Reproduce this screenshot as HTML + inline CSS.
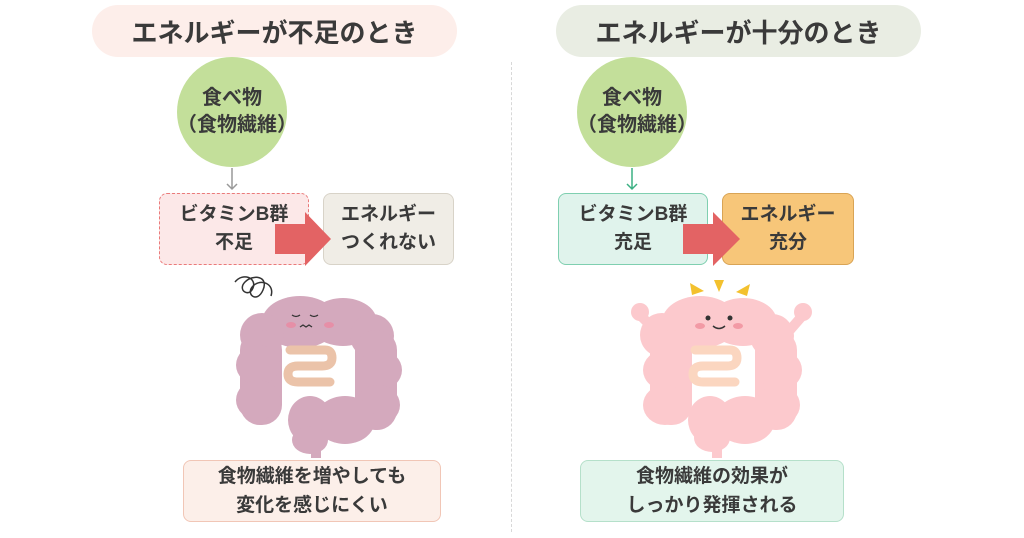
<!DOCTYPE html>
<html><head><meta charset="utf-8"><style>
body{margin:0;width:1024px;height:538px;background:#fff;position:relative;overflow:hidden;font-family:"Liberation Sans","Noto Sans CJK JP",sans-serif;font-weight:bold;color:#3a3a3a}
.a{position:absolute;box-sizing:border-box;display:flex;align-items:center;justify-content:center;text-align:center}
.pill{border-radius:26px;font-size:26px;height:52px;top:5px}
.circ{border-radius:50%;background:#c3df9a;width:110px;height:110px;font-size:20px;line-height:27px;top:57px}
.box{border-radius:8px;font-size:19px;line-height:28px;height:72px;top:193px}
.bot{border-radius:8px;font-size:19px;line-height:29px;height:62px;top:460px}
</style></head><body>
<div class="a pill" style="left:92px;width:365px;background:#fdeeea">エネルギーが不足のとき</div>
<div class="a pill" style="left:556px;width:365px;background:#e9ede3">エネルギーが十分のとき</div>
<div style="position:absolute;left:511px;top:62px;height:470px;border-left:1.5px dashed #d8d8d8"></div>
<div class="a circ" style="left:177px">食べ物<br>（食物繊維）</div>
<div class="a circ" style="left:577px">食べ物<br>（食物繊維）</div>
<svg width="1024" height="538" style="position:absolute;left:0;top:0">
<g stroke="#999" stroke-width="1.5" fill="none"><path d="M232 168V189M227 184l5 5 5-5"/></g>
<g stroke="#3bb083" stroke-width="1.5" fill="none"><path d="M632 168V189M627 184l5 5 5-5"/></g>
</svg>
<div class="a box" style="left:159px;width:150px;background:#fce8e8;border:1.5px dashed #ea7a7a">ビタミンB群<br>不足</div>
<div class="a box" style="left:323px;width:131px;background:#f0ede6;border:1.5px solid #d8d3c8">エネルギー<br>つくれない</div>
<div class="a box" style="left:558px;width:150px;background:#e0f3ec;border:1.5px solid #7fcfb0">ビタミンB群<br>充足</div>
<div class="a box" style="left:722px;width:132px;background:#f7c679;border:1.5px solid #d9a455">エネルギー<br>充分</div>
<svg width="1024" height="538" style="position:absolute;left:0;top:0">
<path d="M275 224H305V212L331 239 305 266V254H275Z" fill="#e36364"/>
<path d="M683 224H713V212L740 239 713 266V254H683Z" fill="#e36364"/>
<path d="M235 282c8-10 22-4 18 6s-16 2-8-6 24-6 18 8-18 4-10-4 22-2 18 10" stroke="#333" stroke-width="1.5" fill="none"/>
<g fill="#d4a9bd">
<ellipse cx="300" cy="322" rx="38" ry="26"/><ellipse cx="343" cy="322" rx="34" ry="24"/>
<ellipse cx="262" cy="335" rx="22" ry="22"/><ellipse cx="372" cy="336" rx="22" ry="22"/>
<rect x="240" y="330" width="42" height="95" rx="20"/><rect x="355" y="330" width="42" height="100" rx="20"/>
<ellipse cx="258" cy="365" rx="22" ry="20"/><ellipse cx="258" cy="400" rx="22" ry="20"/>
<ellipse cx="380" cy="370" rx="22" ry="20"/><ellipse cx="378" cy="405" rx="22" ry="20"/>
<ellipse cx="345" cy="420" rx="30" ry="24"/><ellipse cx="310" cy="420" rx="22" ry="24"/>
<ellipse cx="310" cy="440" rx="18" ry="14"/><rect x="311" y="440" width="10" height="18"/>
</g>
<g fill="none" stroke="#ebc3a9" stroke-width="9" stroke-linecap="round">
<path d="M290 350H325Q332 350 332 358Q332 366 322 366H298Q288 366 288 374Q288 382 298 382H330"/>
</g>
<g stroke="#333" stroke-width="1.3" fill="none"><path d="M292 315q4 3 8 0M310 315q4 3 8 0M300 327l3-2 3 2 3-2 3 2"/></g>
<ellipse cx="291" cy="325" rx="5" ry="3" fill="#e68fa7"/><ellipse cx="329" cy="325" rx="5" ry="3" fill="#e68fa7"/>
<g fill="#fcc9cd">
<ellipse cx="700" cy="322" rx="38" ry="26"/><ellipse cx="743" cy="322" rx="34" ry="24"/>
<ellipse cx="662" cy="335" rx="22" ry="22"/><ellipse cx="772" cy="336" rx="22" ry="22"/>
<rect x="650" y="330" width="42" height="95" rx="20"/><rect x="755" y="330" width="42" height="100" rx="20"/>
<ellipse cx="665" cy="370" rx="22" ry="20"/><ellipse cx="665" cy="405" rx="22" ry="20"/>
<ellipse cx="780" cy="370" rx="22" ry="20"/><ellipse cx="778" cy="405" rx="22" ry="20"/>
<ellipse cx="745" cy="420" rx="30" ry="24"/><ellipse cx="710" cy="420" rx="22" ry="24"/>
<ellipse cx="712" cy="438" rx="18" ry="14"/><rect x="712" y="440" width="10" height="18"/>
<path d="M655 330L640 315" stroke="#fcc9cd" stroke-width="10"/><circle cx="640" cy="312" r="9"/>
<path d="M790 330L803 315" stroke="#fcc9cd" stroke-width="10"/><circle cx="803" cy="312" r="9"/>
</g>
<g fill="none" stroke="#fbd6c0" stroke-width="9" stroke-linecap="round">
<path d="M695 350H730Q737 350 737 358Q737 366 727 366H703Q693 366 693 374Q693 382 703 382H735"/>
</g>
<circle cx="708" cy="318" r="2.5" fill="#333"/><circle cx="730" cy="318" r="2.5" fill="#333"/>
<path d="M713 326q6 5 12 0" stroke="#333" stroke-width="1.5" fill="none"/>
<ellipse cx="700" cy="326" rx="5" ry="3" fill="#f29aa5"/><ellipse cx="738" cy="326" rx="5" ry="3" fill="#f29aa5"/>
<g fill="#f3c12e"><path d="M690 283l14 8-12 4z"/><path d="M714 280l10 0-5 12z"/><path d="M736 292l14-8-3 12z"/></g>
</svg>
<div class="a bot" style="left:183px;width:258px;background:#fcefe9;border:1.5px solid #f1c6b6">食物繊維を増やしても<br>変化を感じにくい</div>
<div class="a bot" style="left:580px;width:264px;background:#e3f5ec;border:1.5px solid #b5e0ca">食物繊維の効果が<br>しっかり発揮される</div>
</body></html>
